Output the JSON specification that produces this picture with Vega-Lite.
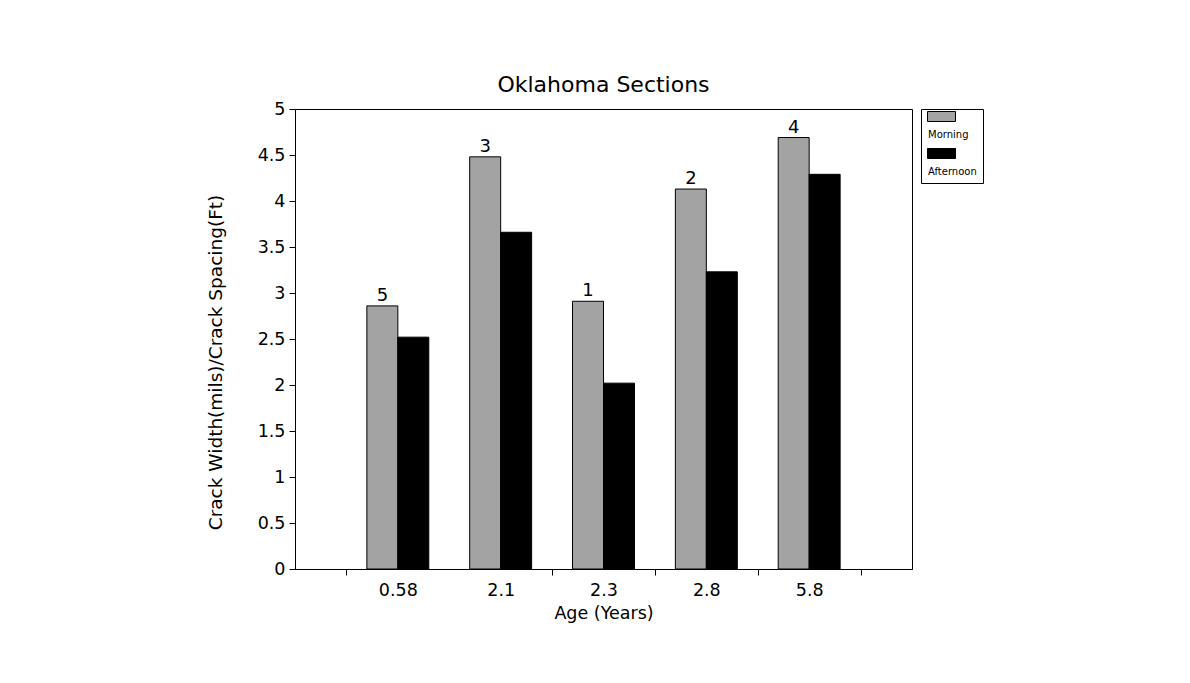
{
  "$schema": "https://vega.github.io/schema/vega-lite/v6.json",
  "width": 617,
  "height": 460,
  "autosize": "none",
  "padding": {"left": 295, "top": 109, "right": 278, "bottom": 114},
  "background": "white",
  "title": {"text": "Oklahoma Sections", "fontSize": 22, "font": "DejaVu Sans", "fontWeight": "normal", "color": "black", "offset": 3, "anchor": "middle"},
  "data": {"values": [
    {"age": "0.58", "period": "Morning", "value": 2.86, "label": "5"},
    {"age": "0.58", "period": "Afternoon", "value": 2.52, "label": ""},
    {"age": "2.1", "period": "Morning", "value": 4.48, "label": "3"},
    {"age": "2.1", "period": "Afternoon", "value": 3.66, "label": ""},
    {"age": "2.3", "period": "Morning", "value": 2.91, "label": "1"},
    {"age": "2.3", "period": "Afternoon", "value": 2.02, "label": ""},
    {"age": "2.8", "period": "Morning", "value": 4.13, "label": "2"},
    {"age": "2.8", "period": "Afternoon", "value": 3.23, "label": ""},
    {"age": "5.8", "period": "Morning", "value": 4.69, "label": "4"},
    {"age": "5.8", "period": "Afternoon", "value": 4.29, "label": ""}
  ]},
  "encoding": {
    "x": {"field": "age", "type": "ordinal", "title": "Age (Years)",
      "scale": {"domain": ["0.58", "2.1", "2.3", "2.8", "5.8"], "paddingInner": 0, "paddingOuter": 0.5},
      "axis": {"labelAngle": 0, "tickBand": "extent", "labelPadding": 6, "titlePadding": 6,
        "tickOpacity": {"condition": {"test": "datum.value === '0.58'", "value": 0}, "value": 1}}},
    "xOffset": {"field": "period", "type": "nominal",
      "scale": {"domain": ["Morning", "Afternoon"], "paddingInner": 0, "paddingOuter": 0.66}},
    "y": {"field": "value", "type": "quantitative", "title": "Crack Width(mils)/Crack Spacing(Ft)",
      "scale": {"domain": [0, 5], "nice": false, "zero": true},
      "axis": {"values": [0, 0.5, 1, 1.5, 2, 2.5, 3, 3.5, 4, 4.5, 5], "format": "~g", "labelPadding": 4, "titlePadding": 32, "titleFontSize": 18.5, "titleY": 253}}
  },
  "layer": [
    {
      "mark": {"type": "bar", "stroke": "black", "strokeWidth": 1},
      "encoding": {
        "fill": {"field": "period", "type": "nominal", "title": null,
          "scale": {"domain": ["Morning", "Afternoon"], "range": ["#a3a3a3", "#000000"]},
          "legend": {"orient": "right", "offset": 9, "strokeColor": "black", "padding": 6,
            "labelFontSize": 10, "labelFont": "DejaVu Sans", "labelColor": "black",
            "symbolType": "M-1,-1.286H1V-0.571H-1Z", "symbolSize": 784,
            "symbolStrokeColor": "black", "symbolStrokeWidth": 1,
            "labelOffset": -28, "labelBaseline": "top", "rowPadding": 6}}
      }
    },
    {
      "transform": [{"filter": "datum.period === 'Morning'"}],
      "mark": {"type": "text", "baseline": "alphabetic", "dy": -5, "fontSize": 18, "font": "DejaVu Sans", "color": "black"},
      "encoding": {"text": {"field": "label"}}
    }
  ],
  "config": {
    "view": {"stroke": "black", "strokeWidth": 1},
    "axis": {"domainColor": "black", "tickColor": "black", "labelColor": "black", "titleColor": "black",
      "labelFont": "DejaVu Sans", "titleFont": "DejaVu Sans", "labelFontSize": 17.5, "titleFontSize": 17.5,
      "titleFontWeight": "normal", "grid": false, "tickSize": 6}
  }
}
